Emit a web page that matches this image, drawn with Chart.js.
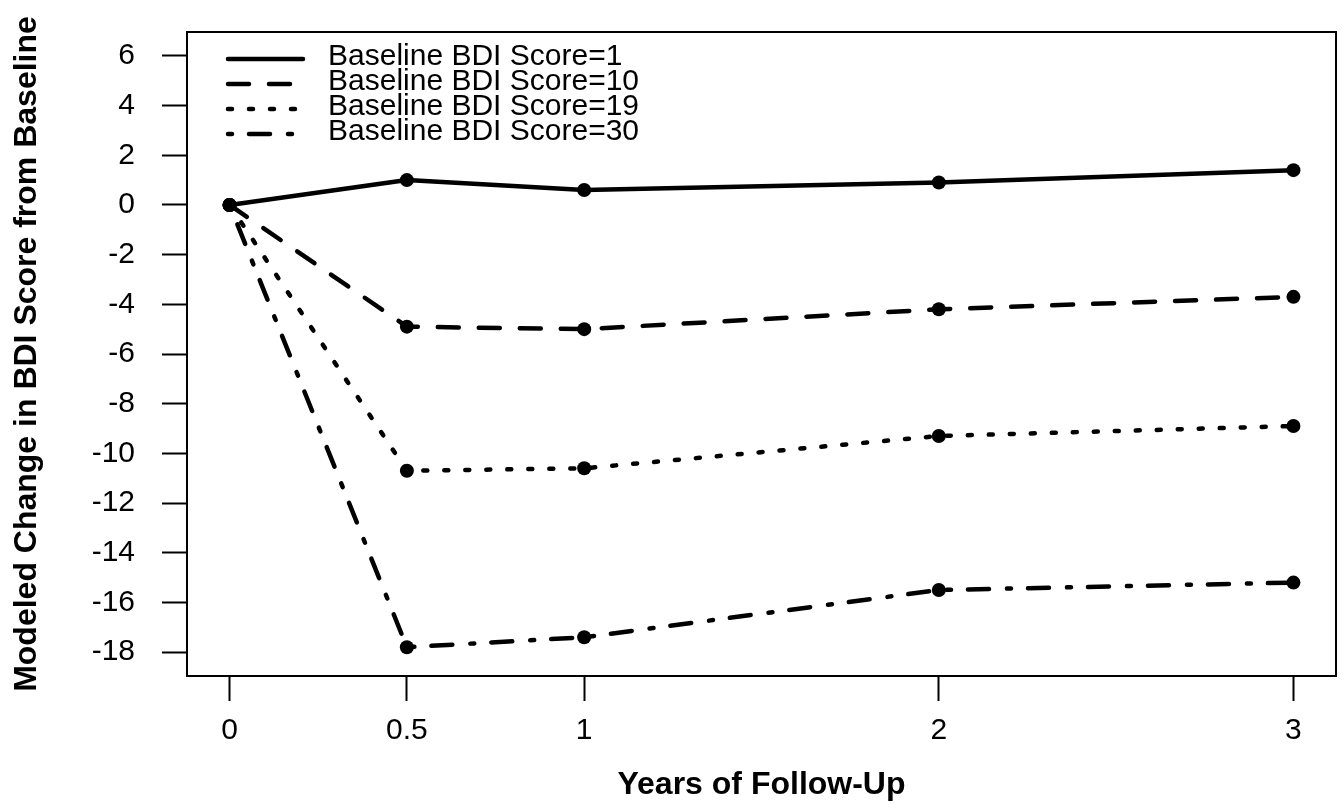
<!DOCTYPE html>
<html>
<head>
<meta charset="utf-8">
<title>Modeled Change in BDI Score</title>
<script src="https://cdn.jsdelivr.net/npm/chart.js@4.4.1/dist/chart.umd.min.js"></script>
<style>
  html, body { margin: 0; padding: 0; background: #fff; }
  #wrap { width: 1344px; height: 804px; position: relative; }
</style>
</head>
<body>
<div id="wrap"><canvas id="bdi-chart"></canvas></div>
<script>
// Years of follow-up (x positions of the points)
const years = [0, 0.5, 1, 2, 3];

// Modeled change from baseline, one array per baseline BDI score
const bdi1 = [0, 1.0, 0.6, 0.9, 1.4];
const bdi10 = [0, -4.9, -5.0, -4.2, -3.7];
const bdi19 = [0, -10.7, -10.6, -9.3, -8.9];
const bdi30 = [0, -17.8, -17.4, -15.5, -15.2];

const seriesLabels = [
  "Baseline BDI Score=1",
  "Baseline BDI Score=10",
  "Baseline BDI Score=19",
  "Baseline BDI Score=30"
];

// Axis ticks
const xTicks = [0, 0.5, 1, 2, 3];
const yTicks = [-18, -16, -14, -12, -10, -8, -6, -4, -2, 0, 2, 4, 6];

const FONT = "'Liberation Sans', Arial, Helvetica, sans-serif";

// round caps add half the line width on each end of a dash
const dashStyles = [[], [21, 20], [4, 17], [4, 17, 21, 18]];

function toPoints(values) {
  return years.map((x, i) => ({ x: x, y: values[i] }));
}

const datasets = [bdi1, bdi10, bdi19, bdi30].map((vals, i) => ({
  label: seriesLabels[i],
  data: toPoints(vals),
  borderColor: "#000",
  backgroundColor: "#000",
  borderWidth: 4.5,
  borderDash: dashStyles[i],
  borderCapStyle: "round",
  borderJoinStyle: "round",
  pointRadius: 7,
  pointBackgroundColor: "#000",
  pointBorderWidth: 0,
  tension: 0
}));

// box around the plot region, like base R's box()
const plotBox = {
  id: "plotBox",
  afterDraw(chart) {
    const { ctx, chartArea: a } = chart;
    ctx.save();
    ctx.strokeStyle = "#000";
    ctx.lineWidth = 2;
    ctx.strokeRect(a.left, a.top, a.right - a.left, a.bottom - a.top);
    ctx.restore();
  }
};

// legend in the top-left corner, drawn from the datasets
const cornerLegend = {
  id: "cornerLegend",
  afterDatasetsDraw(chart) {
    const { ctx, chartArea: a } = chart;
    const x0 = a.left + 41;
    const x1 = x0 + 75;
    const textX = x0 + 100;
    const rowH = 25;
    ctx.save();
    chart.data.datasets.forEach((ds, i) => {
      const y = a.top + 25 + i * rowH;
      ctx.beginPath();
      ctx.setLineDash(ds.borderDash);
      ctx.lineCap = "round";
      ctx.lineWidth = 4.5;
      ctx.strokeStyle = "#000";
      ctx.moveTo(x0, y + 2);
      ctx.lineTo(x1, y + 2);
      ctx.stroke();
      ctx.setLineDash([]);
      ctx.fillStyle = "#000";
      ctx.font = "30px " + FONT;
      ctx.textBaseline = "middle";
      ctx.fillText(ds.label, textX, y);
    });
    ctx.restore();
  }
};

const ctx = document.getElementById("bdi-chart").getContext("2d");

new Chart(ctx, {
  type: "line",
  data: { datasets: datasets },
  options: {
    responsive: true,
    maintainAspectRatio: false,
    animation: false,
    layout: { padding: { left: 0, right: 8, top: 32, bottom: 0 } },
    plugins: {
      legend: { display: false },
      tooltip: { enabled: false }
    },
    scales: {
      x: {
        type: "linear",
        min: -0.12,
        max: 3.12,
        afterBuildTicks: (scale) => { scale.ticks = xTicks.map(v => ({ value: v })); },
        afterFit: (scale) => {
          scale.height = 128;
          scale.paddingLeft = 0;
          scale.paddingRight = 0;
        },
        border: { display: false },
        grid: {
          drawOnChartArea: false,
          drawTicks: true,
          tickLength: 25,
          tickWidth: 2,
          tickColor: "#000"
        },
        ticks: {
          color: "#000",
          padding: 12,
          maxRotation: 0,
          font: { family: FONT, size: 30 },
          callback: (v) => String(v)
        },
        title: {
          display: true,
          text: "Years of Follow-Up",
          color: "#000",
          padding: { top: 0, bottom: 0 },
          font: { family: FONT, size: 32, weight: "bold" }
        }
      },
      y: {
        type: "linear",
        min: -18.96,
        max: 6.96,
        afterBuildTicks: (scale) => { scale.ticks = yTicks.map(v => ({ value: v })); },
        afterFit: (scale) => {
          scale.width = 187;
          scale.paddingTop = 0;
          scale.paddingBottom = 0;
        },
        border: { display: false },
        grid: {
          drawOnChartArea: false,
          drawTicks: true,
          tickLength: 25,
          tickWidth: 2,
          tickColor: "#000"
        },
        ticks: {
          color: "#000",
          padding: 27,
          font: { family: FONT, size: 30 },
          callback: (v) => String(v)
        },
        title: {
          display: true,
          text: "Modeled Change in BDI Score from Baseline",
          color: "#000",
          padding: { top: 8, bottom: 0 },
          font: { family: FONT, size: 32, weight: "bold" }
        }
      }
    }
  },
  plugins: [plotBox, cornerLegend]
});
</script>
</body>
</html>
